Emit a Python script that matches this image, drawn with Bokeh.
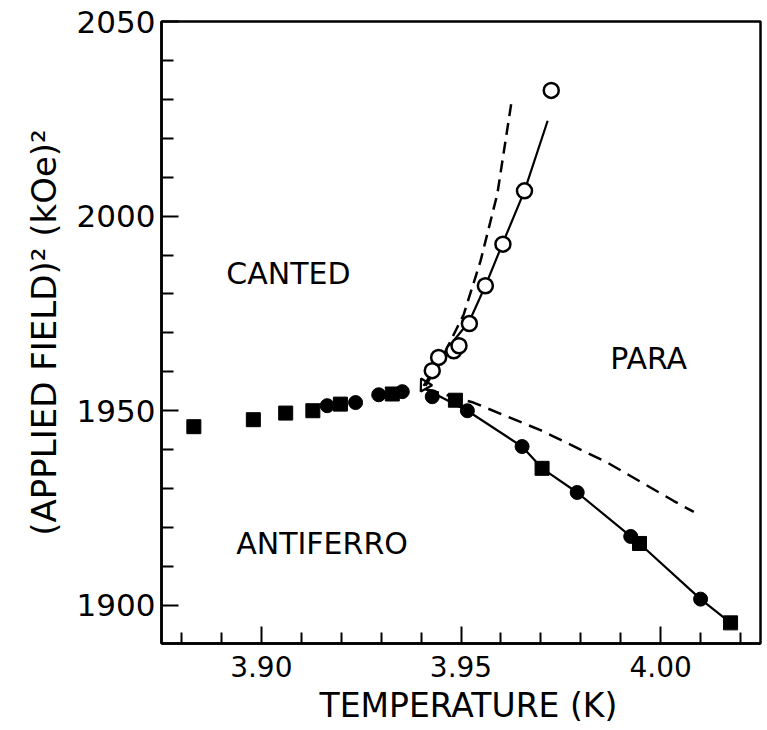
from bokeh.plotting import figure
from bokeh.models import FixedTicker, Range1d, ColumnDataSource, PrintfTickFormatter, Title
from bokeh.embed import file_html
from bokeh.resources import INLINE
from bokeh.core.properties import value

FONT = "DejaVu Sans"

# ---- axis ticks ----
x_major_ticks = [3.90, 3.95, 4.00]
x_minor_ticks = [3.88, 3.89, 3.91, 3.92, 3.93, 3.94, 3.96, 3.97, 3.98, 3.99, 4.01, 4.02]
y_major_ticks = [1900, 1950, 2000, 2050]
y_minor_ticks = [1910, 1920, 1930, 1940, 1960, 1970, 1980, 1990, 2010, 2020, 2030, 2040]

x_title = "TEMPERATURE (K)"
y_title = "(APPLIED FIELD)\u00b2 (kOe)\u00b2"

# ---- data (temperature K, field^2 kOe^2) ----
square_T = [3.8831, 3.8980, 3.9061, 3.9129, 3.9198, 3.9328, 3.9486, 3.9703, 3.9947, 4.0175]
square_H = [1945.9, 1947.7, 1949.4, 1950.0, 1951.7, 1954.3, 1952.7, 1935.2, 1915.9, 1895.5]

dot_T = [3.9165, 3.9236, 3.9294, 3.9353, 3.9428, 3.9516, 3.9653, 3.9791, 3.9925, 4.0100]
dot_H = [1951.3, 1952.1, 1954.1, 1954.9, 1953.6, 1950.0, 1940.8, 1929.0, 1917.7, 1901.6]

open_T = [3.9428, 3.9444, 3.9482, 3.9495, 3.9521, 3.9561, 3.9605, 3.9659, 3.9726]
open_H = [1960.3, 1963.7, 1965.4, 1966.7, 1972.4, 1982.1, 1992.8, 2006.5, 2032.3]

bicritical_T = [3.9409]
bicritical_H = [1956.6]

# solid curves (fits through data)
fit_upper_T = [3.9406, 3.9435, 3.9470, 3.9521, 3.9561, 3.9604, 3.9659, 3.9717]
fit_upper_H = [1956.4, 1961.0, 1966.5, 1973.0, 1982.1, 1992.9, 2006.5, 2024.5]
fit_lower_T = [3.9411, 3.9516, 3.9653, 3.9703, 3.9791, 3.9925, 3.9947, 4.0100, 4.0175]
fit_lower_H = [1955.6, 1950.0, 1940.8, 1935.2, 1929.0, 1917.7, 1915.9, 1901.6, 1895.5]

# dashed curves (theory)
theory_upper_T = [3.9411, 3.9449, 3.9478, 3.9507, 3.9549, 3.9591, 3.9627]
theory_upper_H = [1956.4, 1962.8, 1968.8, 1974.8, 1988.5, 2005.7, 2029.7]
theory_lower_T = [3.9411, 3.9531, 3.9699, 3.9866, 4.0033, 4.0083]
theory_lower_H = [1955.6, 1952.1, 1945.0, 1936.7, 1926.8, 1924.0]

# region labels
region_names = ["CANTED", "PARA", "ANTIFERRO"]
region_T = [3.9068, 3.9970, 3.9152]
region_H = [1985.3, 1963.5, 1915.9]

X_LO, X_HI = 3.875, 4.025
Y_LO, Y_HI = 1890.2, 2050

p = figure(width=764, height=730,
           x_range=Range1d(X_LO, X_HI), y_range=Range1d(Y_LO, Y_HI),
           output_backend="svg", toolbar_location=None,
           min_border_left=161, min_border_right=4, min_border_top=21, min_border_bottom=87,
           background_fill_color="white", border_fill_color="white")

p.grid.visible = False
p.outline_line_color = "black"
p.outline_line_width = 2.5
p.outline_line_alpha = 1.0

for ax in (p.xaxis[0], p.yaxis[0]):
    ax.axis_line_width = 2.5
    ax.axis_line_color = "black"
    ax.major_tick_in = 17
    ax.major_tick_out = 0
    ax.minor_tick_out = 0
    ax.major_tick_line_width = 2
    ax.minor_tick_line_width = 2
    ax.major_tick_line_color = "black"
    ax.minor_tick_line_color = "black"
    ax.major_label_text_font = FONT
    ax.major_label_text_color = "black"
    ax.axis_label_text_font = FONT
    ax.axis_label_text_font_style = "normal"
    ax.axis_label_text_color = "black"

p.xaxis.ticker = FixedTicker(ticks=x_major_ticks, minor_ticks=x_minor_ticks)
p.xaxis.formatter = PrintfTickFormatter(format="%.2f")
p.xaxis.minor_tick_in = 11
p.xaxis.major_label_text_font_size = "28px"
p.xaxis.major_label_standoff = 12

p.yaxis.ticker = FixedTicker(ticks=y_major_ticks, minor_ticks=y_minor_ticks)
p.yaxis.minor_tick_in = 12
p.yaxis.major_label_text_font_size = "31px"
p.yaxis.major_label_standoff = 6
p.yaxis.axis_label = y_title
p.yaxis.axis_label_text_font_size = "34px"
p.yaxis.axis_label_standoff = 10

# x-axis title placed in the panel below the axis
p.add_layout(Title(text=x_title, align="left", offset=158, standoff=8,
                   text_font=FONT, text_font_size="33px", text_font_style="normal",
                   text_color="black"), "below")

# lines
p.line(fit_upper_T, fit_upper_H, line_color="black", line_width=2.2)
p.line(fit_lower_T, fit_lower_H, line_color="black", line_width=2.2)
p.line(theory_upper_T, theory_upper_H, line_color="black", line_width=2.5, line_dash="12 7")
p.line(theory_lower_T, theory_lower_H, line_color="black", line_width=2.5, line_dash="14 8")

# markers
p.scatter(square_T, square_H, marker="square", size=14, fill_color="black", line_color="black")
p.scatter(dot_T, dot_H, marker="circle", size=14, fill_color="black", line_color="black")
p.scatter(open_T, open_H, marker="circle", size=15, fill_color="white", line_color="black", line_width=2.5)
p.scatter(bicritical_T, bicritical_H, marker="triangle", size=13, fill_color=None,
          line_color="black", line_width=2.2, angle=0.5)

src = ColumnDataSource(dict(x=region_T, y=region_H, t=region_names))
p.text(x="x", y="y", text="t", source=src, text_font=value(FONT), text_font_size="30px",
       text_align="center", text_baseline="middle", text_color="black")

open("out.html", "w").write(file_html(p, INLINE))
